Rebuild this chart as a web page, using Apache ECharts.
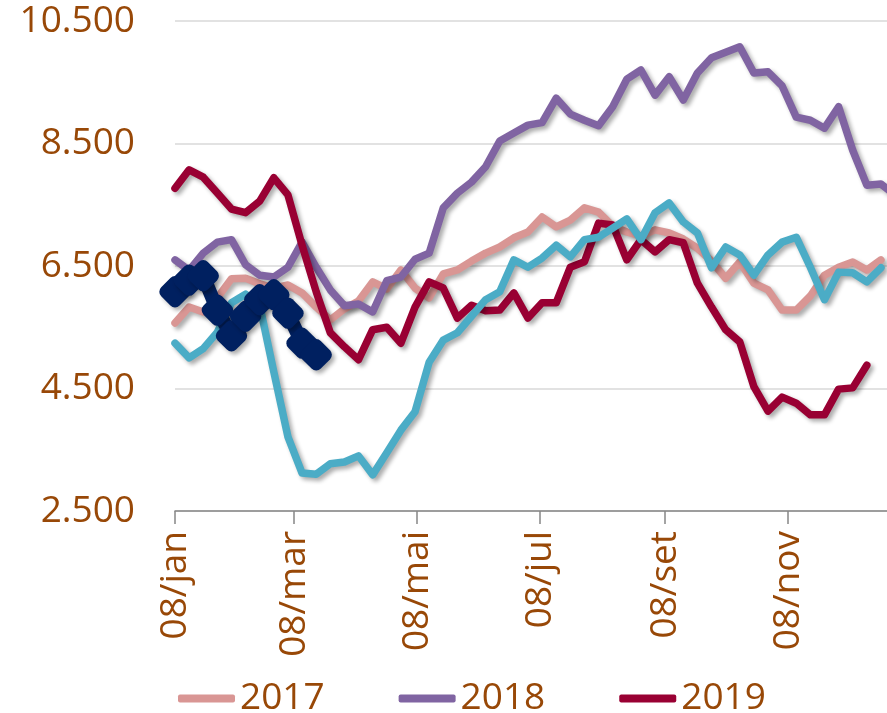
<!DOCTYPE html>
<html>
<head>
<meta charset="utf-8">
<script src="https://cdn.jsdelivr.net/npm/echarts@6/dist/echarts.min.js"></script>
<style>
html,body{margin:0;padding:0;background:#fff;}
#chart{width:887px;height:713px;}
</style>
</head>
<body>
<div id="chart"></div>
<script>
// Weekly series, first point on 08/jan, one point every 7 days
const seriesNames = ['2017', '2018', '2019', '2020', '2021'];
const values2017 = [5570,5830,5750,5980,6290,6300,6210,6140,6190,6060,
  5830,5620,5800,5930,6240,6125,6435,6140,5980,6370,
  6435,6580,6710,6810,6960,7055,7300,7140,7250,7450,
  7380,7150,7055,6990,7090,7040,6940,6790,6580,6300,
  6565,6220,6110,5780,5780,6010,6350,6480,6565,6435,6600];
const values2018 = [6600,6430,6710,6890,6930,6520,6350,6320,6480,6890,
  6480,6110,5850,5880,5750,6260,6320,6610,6710,7450,
  7690,7870,8120,8540,8670,8800,8840,9240,8980,8880,
  8790,9100,9550,9700,9290,9590,9210,9650,9900,9990,
  10080,9650,9670,9440,8930,8880,8750,9100,8390,7820,7840,7660];
const values2019 = [7770,8070,7950,7690,7430,7370,7560,7940,7660,6840,
  6080,5410,5180,4970,5460,5500,5240,5830,6240,6140,
  5650,5860,5770,5780,6060,5650,5900,5900,6480,6570,
  7200,7170,6600,6930,6730,6930,6880,6220,5830,5460,
  5260,4530,4130,4360,4260,4070,4070,4490,4510,4880];
const values2020 = [5240,5000,5150,5420,5900,6040,5860,4770,3710,3120,
  3100,3270,3300,3400,3090,3450,3820,4120,4930,5290,
  5410,5680,5950,6080,6600,6480,6630,6840,6650,6930,
  6970,7120,7270,6930,7370,7530,7220,7040,6470,6810,
  6680,6350,6680,6890,6970,6480,5950,6400,6390,6240,6470];
const values2021 = [6080,6270,6340,5780,5360,5680,5950,6030,5730,5240,5050];

// x tick positions (days after 08/jan) and their labels
const tickDays = [0, 59, 120, 181, 243, 304];
const tickLabels = ['08/jan', '08/mar', '08/mai', '08/jul', '08/set', '08/nov'];
const yTicks = [2500, 4500, 6500, 8500, 10500];

const colors = ['#D99694', '#8064A2', '#990033', '#4BACC6', '#002060'];
const labelColor = '#984807';
const FONT = '"Open Sans", "Noto Sans", sans-serif';

function toPoints(vals) { return vals.map((v, i) => [i * 7, v]); }
function fmtThousands(n) { return String(n).replace(/\B(?=(\d{3})+(?!\d))/g, '.'); }

const allValues = [values2017, values2018, values2019, values2020, values2021];
const shadow = { shadowColor: 'rgba(0,0,0,0.33)', shadowBlur: 4, shadowOffsetX: 3, shadowOffsetY: 3 };

const series = allValues.map((vals, idx) => {
  const isCurrent = idx === 4;
  return {
    name: seriesNames[idx],
    type: 'line',
    data: toPoints(vals),
    z: 2 + idx,
    symbol: isCurrent ? 'roundRect' : 'none',
    symbolSize: isCurrent ? 26 : 0,
    symbolRotate: 45,
    showAllSymbol: true,
    itemStyle: { color: colors[idx], ...shadow },
    lineStyle: Object.assign({ color: colors[idx], width: isCurrent ? 14 : 7.5, join: 'round', cap: 'round' }, shadow),
    emphasis: { disabled: true },
    animation: false
  };
});

const chart = echarts.init(document.getElementById('chart'), null, { renderer: 'canvas' });
chart.setOption({
  animation: false,
  backgroundColor: '#ffffff',
  grid: { left: 175, right: 0, top: 21, bottom: 202, containLabel: false },
  legend: {
    data: seriesNames,
    left: 178,
    top: 680,
    padding: 0,
    width: 600,
    itemWidth: 57,
    itemHeight: 8,
    itemGap: 74,
    icon: 'roundRect',
    textStyle: { color: labelColor, fontSize: 37, fontFamily: FONT, padding: [0, 0, 0, 0] }
  },
  xAxis: {
    type: 'value',
    min: 0,
    max: 353,
    splitLine: { show: false },
    axisLine: { show: true, lineStyle: { color: '#868686', width: 1.5 } },
    axisTick: { show: true, length: 13, customValues: tickDays, lineStyle: { color: '#868686', width: 1.5 } },
    axisLabel: {
      customValues: tickDays,
      rotate: 90,
      margin: 20,
      color: labelColor,
      fontSize: 37,
      fontFamily: FONT,
      formatter: v => tickLabels[tickDays.indexOf(v)]
    }
  },
  yAxis: {
    type: 'value',
    min: yTicks[0],
    max: yTicks[yTicks.length - 1],
    interval: 2000,
    axisLine: { show: false },
    axisTick: { show: false },
    splitLine: { show: true, lineStyle: { color: '#D9D9D9', width: 1.5 } },
    axisLabel: { margin: 40, color: labelColor, fontSize: 37, fontFamily: FONT, formatter: v => fmtThousands(v) }
  },
  series: series
});
</script>
</body>
</html>
